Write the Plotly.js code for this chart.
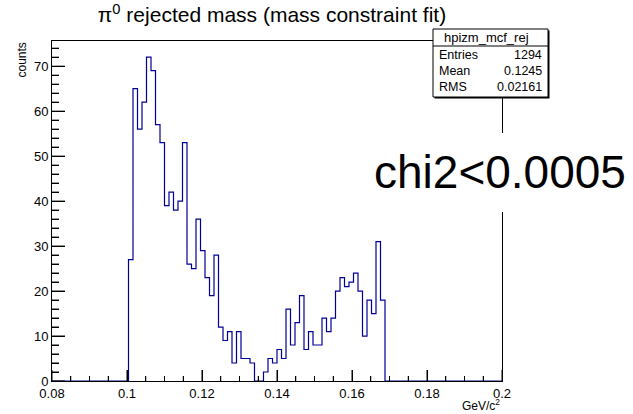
<!DOCTYPE html>
<html>
<head>
<meta charset="utf-8">
<script src="https://cdn.plot.ly/plotly-3.0.1.min.js"></script>
<style>
  html, body { margin: 0; padding: 0; background: #fff; }
  #chart { width: 633px; height: 414px; }
</style>
</head>
<body>
<div id="chart"></div>
<script>
// ---- data ----
const xMin = 0.08;          // histogram axis low edge
const xMax = 0.2;           // histogram axis high edge
const nBins = 100;          // bin count
const firstBin = 17;        // index of first non-empty bin
const counts = [27, 65, 56, 62, 72, 69, 57, 53, 39, 42, 38, 40, 53, 26, 25, 36, 29, 23, 19, 28,
                12, 9, 11, 4, 11, 5, 5, 4, 0, 0, 2, 5, 4, 7, 5, 16, 8, 13, 19, 7,
                11, 8, 8, 14, 11, 14, 20, 23, 21, 22, 24, 20, 10, 18, 15, 31, 18];
const xTick0 = 0.08, xDtick = 0.02, xMinorDtick = 0.005;
const yTick0 = 0, yDtick = 10, yMinorDtick = 2;
const statsName = "hpizm_mcf_rej";
const statsLabels = ["Entries", "Mean", "RMS"];
const statsValues = ["1294", "0.1245", "0.02161"];
const titleText = "\u03c0<sup>0</sup> rejected mass (mass constraint fit)";
const noteText = "chi2<0.0005";

// ---- build step outline from bin contents ----
const bw = (xMax - xMin) / nBins;
const full = new Array(nBins).fill(0);
counts.forEach((c, i) => { full[firstBin + i] = c; });
const sx = [], sy = [];
for (let i = 0; i < nBins; i++) { sx.push(xMin + i * bw); sy.push(full[i]); }
sx.push(xMax); sy.push(full[nBins - 1]);
const yMax = Math.max(...counts) * 1.05;

const L = 52, R = 502, T = 41, B = 381, W = 633, H = 414;
const px = v => (v - L) / (R - L);
const py = v => (B - v) / (B - T);

const font = "Liberation Sans, Arial, Helvetica, sans-serif";

const trace = {
  x: sx, y: sy, type: "scatter", mode: "lines",
  line: { shape: "hv", color: "#000099", width: 1.2 },
  hoverinfo: "skip"
};

const shapes = [];
// tick marks reinforced along the axes (positions from the axis spacing)
const nxMinor = Math.round((xMax - xMin) / xMinorDtick);
for (let i = 0; i <= nxMinor; i++) {
  const v = xTick0 + i * xMinorDtick;
  const major = i % Math.round(xDtick / xMinorDtick) === 0;
  shapes.push({ type: "line", xref: "x", yref: "paper", x0: v, x1: v, y0: 0, y1: (major ? 11 : 5) / (B - T),
    line: { color: "#000", width: 1 }, layer: "above" });
}
const nyMinor = Math.floor(yMax / yMinorDtick);
for (let i = 0; i <= nyMinor; i++) {
  const v = yTick0 + i * yMinorDtick;
  const major = i % Math.round(yDtick / yMinorDtick) === 0;
  shapes.push({ type: "line", xref: "paper", yref: "y", x0: 0, x1: (major ? 13 : 7) / (R - L), y0: v, y1: v,
    line: { color: "#000", width: 1 }, layer: "above" });
}
shapes.push(
  // white box behind the big note (hides the frame line)
  { type: "rect", xref: "paper", yref: "paper", x0: px(366), x1: px(640), y0: py(212), y1: py(133),
    fillcolor: "#ffffff", line: { width: 0 }, layer: "above" },
  // stats box shadow
  { type: "rect", xref: "paper", yref: "paper", x0: px(434.5), x1: px(549.5), y0: py(98.5), y1: py(30.5),
    fillcolor: "#000000", line: { width: 0 }, layer: "above" },
  // stats box
  { type: "rect", xref: "paper", yref: "paper", x0: px(433), x1: px(548), y0: py(97), y1: py(29),
    fillcolor: "#ffffff", line: { color: "#000", width: 1 }, layer: "above" },
  { type: "line", xref: "paper", yref: "paper", x0: px(433), x1: px(548), y0: py(46), y1: py(46),
    line: { color: "#000", width: 1 }, layer: "above" }
);

const annotations = [
  { text: statsName, xref: "paper", yref: "paper", x: px(486), y: py(37.5), xanchor: "center", yanchor: "middle",
    showarrow: false, font: { family: font, size: 13, color: "#000" } },
  { text: "counts", xref: "paper", yref: "paper", x: px(21), y: py(41), xanchor: "center", yanchor: "top",
    textangle: -90, showarrow: false, font: { family: font, size: 12, color: "#000" } },
  { text: "GeV/c<sup>2</sup>", xref: "paper", yref: "paper", x: px(502), y: py(405), xanchor: "right", yanchor: "middle",
    showarrow: false, font: { family: font, size: 12, color: "#000" } },
  { text: noteText, xref: "paper", yref: "paper", x: px(500), y: py(172), xanchor: "center", yanchor: "middle",
    showarrow: false, font: { family: font, size: 46, color: "#000" } }
];
const rowsY = [55, 71, 87];
statsLabels.forEach((lab, i) => {
  annotations.push({ text: lab, xref: "paper", yref: "paper", x: px(437), y: py(rowsY[i]), xanchor: "left", yanchor: "middle",
    showarrow: false, font: { family: font, size: 12.5, color: "#000" } });
  annotations.push({ text: statsValues[i], xref: "paper", yref: "paper", x: px(544), y: py(rowsY[i]), xanchor: "right", yanchor: "middle",
    showarrow: false, font: { family: font, size: 12.5, color: "#000" } });
});

const layout = {
  width: W, height: H,
  margin: { l: L, r: W - R, t: T, b: H - B, pad: 0 },
  showlegend: false,
  title: { text: titleText, x: 272 / W, xref: "container", xanchor: "center", y: 1 - 15 / H, yanchor: "middle",
    font: { family: font, size: 21, color: "#000" } },
  xaxis: {
    range: [xMin, xMax], gridcolor: "rgba(0,0,0,0)",
    showline: true, linecolor: "#000", mirror: true,
    ticks: "inside", ticklen: 11, tickcolor: "#000",
    tick0: xTick0, dtick: xDtick,
    minor: { ticks: "inside", ticklen: 5, dtick: xMinorDtick, tickcolor: "#000" },
    tickfont: { family: font, size: 13, color: "#000" }
  },
  yaxis: {
    range: [0, yMax], gridcolor: "rgba(0,0,0,0)", zerolinecolor: "#000",
    showline: true, linecolor: "#000", mirror: true,
    ticks: "inside", ticklen: 13, tickcolor: "#000",
    tick0: yTick0, dtick: yDtick,
    minor: { ticks: "inside", ticklen: 7, dtick: yMinorDtick, tickcolor: "#000" },
    tickfont: { family: font, size: 13, color: "#000" }
  },
  shapes: shapes,
  annotations: annotations
};

Plotly.newPlot("chart", [trace], layout, { staticPlot: true, displayModeBar: false });
</script>
</body>
</html>
